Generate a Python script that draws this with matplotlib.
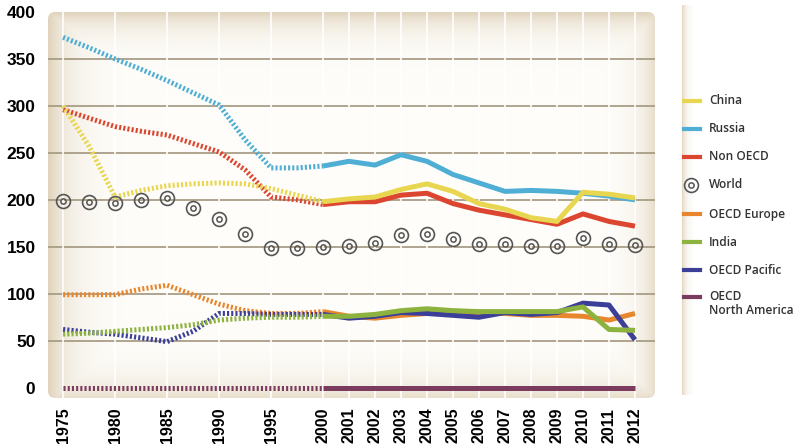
import matplotlib.pyplot as plt
import numpy as np
from matplotlib.patches import FancyBboxPatch
from matplotlib.lines import Line2D

# data (early years every 2.5 years, then yearly)
years = [1975, 1977.5, 1980, 1982.5, 1985, 1987.5, 1990, 1992.5, 1995, 1997.5,
         2000, 2001, 2002, 2003, 2004, 2005, 2006, 2007, 2008, 2009, 2010, 2011, 2012]
tick_years = [1975, 1980, 1985, 1990, 1995] + list(range(2000, 2013))

china = [300, 257, 203, 210, 215, 217, 218, 217, 212, 205,
         198, 201, 203, 211, 217, 209, 196, 190, 181, 177, 208, 206, 202]
russia = [373, 362, 350, 339, 327, 314, 301, 264, 234, 234,
          236, 241, 237, 248, 241, 227, 218, 209, 210, 209, 207, 204, 200]
non_oecd = [296, 287, 278, 273, 269, 260, 251, 232, 203, 200,
            195, 198, 198, 205, 207, 196, 189, 184, 179, 174, 185, 177, 172]
world = [199, 198, 197, 200, 202, 191, 180, 164, 149, 149,
         150, 151, 154, 163, 164, 158, 153, 153, 151, 151, 159, 153, 152]
oecd_europe = [99, 99, 99, 105, 109, 99, 89, 82, 79, 79,
               81, 76, 74, 77, 79, 79, 79, 79, 77, 77, 76, 72, 79]
india = [57, 58, 60, 62, 64, 67, 72, 74, 75, 75,
         76, 76, 78, 82, 84, 82, 81, 81, 81, 81, 86, 62, 61]
oecd_pacific = [62, 59, 57, 53, 49, 60, 79, 79, 78, 78,
                78, 74, 76, 80, 79, 77, 75, 80, 78, 80, 90, 88, 51]
oecd_na = [0] * 23


def pos(y):
    y = np.asarray(y, dtype=float)
    return np.where(y <= 2000, (y - 1975) / 2.5, y - 1990)


x = pos(years)

series = [
    ('OECD\nNorth America', oecd_na, '#7b3b5e'),
    ('OECD Europe', oecd_europe, '#e8862e'),
    ('OECD Pacific', oecd_pacific, '#3b3f98'),
    ('India', india, '#8db33f'),
    ('Russia', russia, '#4eaed4'),
    ('Non OECD', non_oecd, '#dc4630'),
    ('China', china, '#e9d650'),
]

W, H = 799, 446
fig = plt.figure(figsize=(W / 100, H / 100), dpi=100)
ax = fig.add_axes([48 / W, 1 - 398 / H, 607 / W, 386 / H])
xmin, xmax, ymin, ymax = -0.58, 22.77, -11, 400

# beige panel with lighter centre
gx = np.linspace(0, 1, 400)
gy = np.linspace(0, 1, 300)
GX, GY = np.meshgrid(gx, gy)
fx = np.maximum(np.exp(-GX / 0.035), 0.75 * np.exp(-(1 - GX) / 0.025))
fy = np.maximum(np.exp(-GY / 0.04), 0.75 * np.exp(-(1 - GY) / 0.045))
f = np.maximum(fx, fy)[..., None]
edge = np.array([0.88, 0.83, 0.74])
centre = np.array([0.997, 0.993, 0.98])
img = centre * (1 - f) + edge * f
im = ax.imshow(img, extent=(xmin, xmax, ymin, ymax), aspect='auto', zorder=0, origin='upper')
box = FancyBboxPatch((0, 0), 1, 1, boxstyle='round,pad=0,rounding_size=0.012',
                     mutation_aspect=607 / 386, transform=ax.transAxes, facecolor='none', edgecolor='none')
ax.add_patch(box)
im.set_clip_path(box)

for v in range(50, 400, 50):
    ax.axhline(v, color='#a99d86', lw=1.3, zorder=1)
for t in pos(tick_years):
    ax.axvline(t, color='white', lw=1.3, alpha=0.9, zorder=1)

dots = (0, (0.42, 0.42))
for i, (label, vals, col) in enumerate(series):
    v = np.array(vals, dtype=float)
    ax.plot(x[:11], v[:11], color=col, lw=3.6, linestyle=dots, zorder=3 + i)
    ax.plot(x[10:], v[10:], color=col, lw=3.6, solid_capstyle='butt', zorder=3 + i)

ax.plot(x, world, 'o', ms=10, mfc='none', mec='#555555', mew=1.2, zorder=12)
ax.plot(x, world, 'o', ms=3.8, mfc='none', mec='#555555', mew=1.1, zorder=12)

ax.set_xlim(xmin, xmax)
ax.set_ylim(ymin, ymax)
for s in ax.spines.values():
    s.set_visible(False)
ax.set_yticks(range(0, 401, 50))
ax.set_yticklabels([str(v) for v in range(0, 401, 50)], fontsize=12.5,
                   fontweight='bold', family='Liberation Sans')
ax.set_xticks(pos(tick_years))
ax.set_xticklabels([str(t) for t in tick_years], rotation=90, fontsize=11.5,
                   fontweight='bold', family='Liberation Sans')
ax.tick_params(length=0)
ax.tick_params(axis='y', pad=9)
ax.tick_params(axis='x', pad=7)

# beige strip left of legend
sax = fig.add_axes([682 / W, 1 - 395 / H, 12 / W, 390 / H])
strip = np.linspace(0, 1, 50)
k = np.exp(-strip / 0.3)[:, None]
scol = edge * k + np.array([1, 1, 1]) * (1 - k)
sax.imshow(scol[None, :, :], aspect='auto')
sax.axis('off')

# legend
legend = [('China', '#e9d650', 101), ('Russia', '#4eaed4', 129), ('Non OECD', '#dc4630', 157),
          ('World', None, 185), ('OECD Europe', '#e8862e', 214), ('India', '#8db33f', 242),
          ('OECD Pacific', '#3b3f98', 270), ('OECD\nNorth America', '#7b3b5e', 297)]
for name, col, py in legend:
    fy_ = 1 - py / H
    if col is None:
        fig.add_artist(Line2D([691 / W], [fy_], marker='o', ms=10, mfc='none', mec='#555555', mew=1.2,
                              transform=fig.transFigure))
        fig.add_artist(Line2D([691 / W], [fy_], marker='o', ms=3.8, mfc='none', mec='#555555', mew=1.1,
                              transform=fig.transFigure))
    else:
        fig.add_artist(Line2D([684 / W, 700 / W], [fy_, fy_], color=col, lw=3,
                              transform=fig.transFigure))
    if '\n' in name:
        fig.text(709 / W, fy_ + 7 / H, name, fontsize=8.6, fontweight='semibold', family='Open Sans',
                 color='#333333', va='top', linespacing=1.1)
    else:
        fig.text(709 / W, fy_, name, fontsize=8.6, fontweight='semibold', family='Open Sans',
                 color='#333333', va='center')

fig.savefig('out.png', dpi=100)
